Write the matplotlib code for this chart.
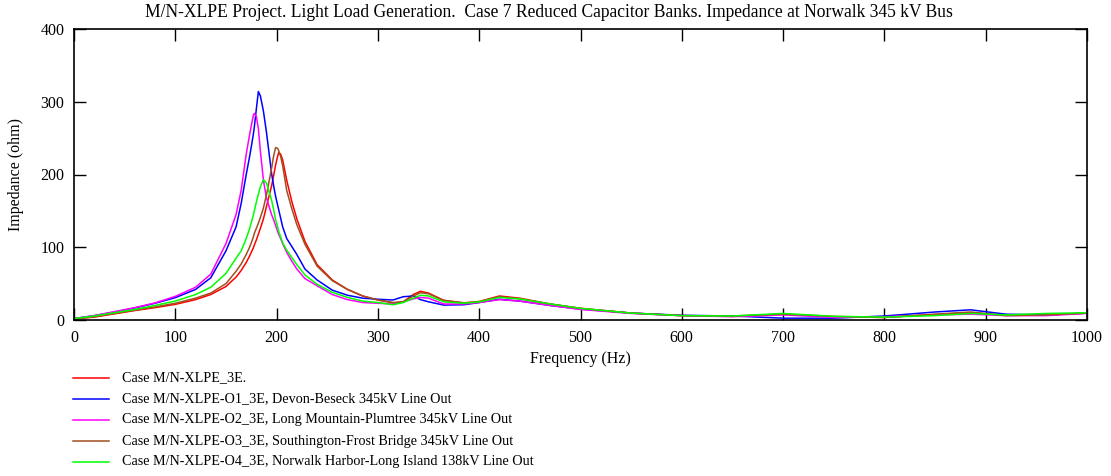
import matplotlib
matplotlib.use("Agg")
import matplotlib.pyplot as plt
from matplotlib.lines import Line2D

plt.rcParams['font.family'] = ['Liberation Serif', 'DejaVu Serif']

# Frequency sweep points (Hz)
freq = [0, 20, 40, 60, 80, 100, 120, 135, 150, 160, 165, 170, 173, 175, 177,
        178, 180, 182, 184, 187, 190, 195, 197, 199, 201, 202, 204, 206, 210,
        215, 220, 228, 240, 255, 270, 285, 300, 315, 325, 335, 342, 350, 365,
        385, 400, 420, 440, 470, 500, 550, 600, 650, 700, 750, 800, 850, 885,
        920, 960, 1000]

# Driving-point impedance magnitude (ohm) for each contingency case
z_base = [1.5, 4, 8.5, 13, 17, 21.5, 28, 35, 46, 59, 68, 79, 87, 93, 99,
          103, 110, 118, 126, 139, 156, 184, 198, 213, 225, 230, 228, 220, 192,
          163, 139, 108, 76, 55, 42, 33, 27.5, 23.5, 25, 35, 39.5, 37, 27,
          23.5, 25.5, 33, 30, 22, 16, 9.5, 6, 5, 8, 4.5, 3.5, 7.5, 10,
          6.5, 7, 9.5]
z_o1 = [2, 6, 11, 16.5, 23, 30.7, 42, 58, 95, 128, 160, 200, 222, 238, 255,
        265, 290, 314, 308, 287, 258, 202, 185, 170, 158, 152, 140, 128, 112,
        101, 90, 70, 55, 41, 34, 30, 28.5, 27.5, 32, 33, 28, 25, 20.5,
        21, 24, 28.5, 26, 20, 15, 9.5, 6.5, 5.5, 2.5, 2.5, 5.5, 11, 14,
        8, 7, 9.5]
z_o2 = [2, 6, 11.5, 17, 23.5, 32.5, 45, 63, 105, 145, 178, 228, 252, 267, 281,
        284, 280, 263, 232, 192, 168, 145, 138, 130, 122, 118, 112, 105, 93,
        81, 70, 57, 47, 35, 28, 24, 23, 22, 25, 29, 31, 30, 22,
        22, 24, 28, 26, 20, 14.5, 9, 6, 4.5, 7, 3.5, 4.5, 7, 8,
        6, 6, 9]
z_o3 = [1.5, 4.5, 9, 13.5, 18, 23, 30, 37, 50, 67, 77, 90, 99, 106, 114,
        119, 126, 133, 141, 154, 172, 208, 225, 237, 236, 233, 225, 212, 178,
        153, 131, 104, 74, 54, 42, 33, 27.5, 24, 25, 33, 37.5, 36, 27,
        23.5, 25, 32, 29, 22, 16, 9.5, 6, 5.5, 8, 5, 3.5, 8, 11,
        6, 7, 9.5]
z_o4 = [2, 5.5, 10, 14.5, 20, 26, 35, 45, 64, 85, 95, 112, 124, 134, 144,
        150, 162, 173, 183, 193, 188, 165, 152, 138, 128, 122, 114, 106, 96,
        86, 76, 62, 49, 38, 31, 26, 24, 21, 24, 30, 34, 33, 25,
        23, 25, 31, 29, 22, 16, 9.5, 6, 5.5, 9, 5, 4, 6, 9,
        7, 9, 10]

series = [z_base, z_o1, z_o2, z_o3, z_o4]
colors = ['#ff0000', '#0000ff', '#ff00ff', '#a0501e', '#00ff00']
labels = ['Case M/N-XLPE_3E.',
          'Case M/N-XLPE-O1_3E, Devon-Beseck 345kV Line Out',
          'Case M/N-XLPE-O2_3E, Long Mountain-Plumtree 345kV Line Out',
          'Case M/N-XLPE-O3_3E, Southington-Frost Bridge 345kV Line Out',
          'Case M/N-XLPE-O4_3E, Norwalk Harbor-Long Island 138kV Line Out']

title = ('M/N-XLPE Project. Light Load Generation.  Case 7 Reduced Capacitor '
         'Banks. Impedance at Norwalk 345 kV Bus')
xticks = [0, 100, 200, 300, 400, 500, 600, 700, 800, 900, 1000]
yticks = [0, 100, 200, 300, 400]

W, H = 1111, 476
fs = 11.5
fig = plt.figure(figsize=(W / 100, H / 100), dpi=100)
ax = fig.add_axes([74 / W, 1 - 320 / H, (1087 - 74) / W, (320 - 29) / H])

handles = []
for z, c, lab in zip(series, colors, labels):
    h, = ax.plot(freq, z, color=c, lw=1.1, label=lab)
    handles.append(h)

ax.set_xlim(0, 1000)
ax.set_ylim(0, 400)
ax.set_xticks(xticks)
ax.set_yticks(yticks)
ax.tick_params(direction='in', length=8.5, width=1.0, top=True, right=True,
               labelsize=fs, pad=7, colors='black')
for s in ax.spines.values():
    s.set_linewidth(1.2)
fig.text(549 / W, 1 - 17 / H, title, fontsize=12.65, ha='center',
         va='baseline')
ax.set_xlabel('Frequency (Hz)', fontsize=fs, labelpad=4)
ax.set_ylabel('Impedance (ohm)', fontsize=fs, labelpad=12)

# Legend laid out beneath the plot area
row_y = [377.5, 399, 420, 441, 462]
for h, y in zip(handles, row_y):
    yf = 1 - y / H
    fig.add_artist(Line2D([73 / W, 109 / W], [yf, yf], color=h.get_color(),
                          lw=1.1, transform=fig.transFigure))
    fig.text(122 / W, yf, h.get_label(), fontsize=10.2, va='center', ha='left')

fig.savefig('out.png', dpi=100)
